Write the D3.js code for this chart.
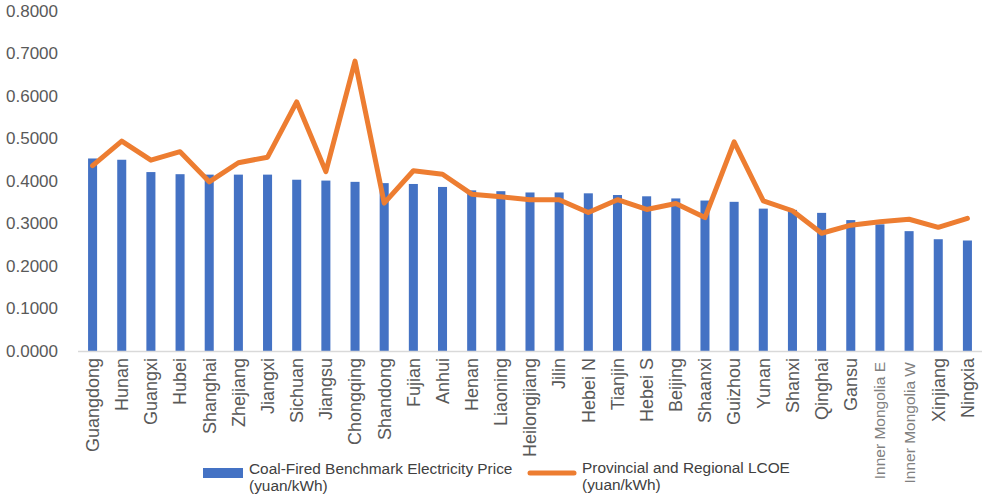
<!DOCTYPE html>
<html>
<head>
<meta charset="utf-8">
<script src="https://cdn.jsdelivr.net/npm/d3@7"></script>
<style>
  html, body { margin: 0; padding: 0; background: #fff; }
  svg { display: block; font-family: "Liberation Sans", Arial, sans-serif; }
</style>
</head>
<body>
<div id="chart"></div>
<script>
const provinces = ['Guangdong', 'Hunan', 'Guangxi', 'Hubei', 'Shanghai', 'Zhejiang', 'Jiangxi', 'Sichuan',
  'Jiangsu', 'Chongqing', 'Shandong', 'Fujian', 'Anhui', 'Henan', 'Liaoning', 'Heilongjiang', 'Jilin',
  'Hebei N', 'Tianjin', 'Hebei S', 'Beijing', 'Shaanxi', 'Guizhou', 'Yunan', 'Shanxi', 'Qinghai', 'Gansu',
  'Inner Mongolia E', 'Inner Mongolia W', 'Xinjiang', 'Ningxia'];

const benchmarkPrice = [0.453, 0.450, 0.421, 0.416, 0.415, 0.415, 0.415, 0.403, 0.401, 0.398, 0.395,
  0.393, 0.386, 0.378, 0.376, 0.373, 0.373, 0.371, 0.367, 0.364, 0.359, 0.354, 0.351, 0.335, 0.332,
  0.325, 0.308, 0.298, 0.282, 0.263, 0.260];

const lcoe = [0.436, 0.494, 0.449, 0.469, 0.398, 0.443, 0.456, 0.586, 0.422, 0.682, 0.348, 0.424,
  0.416, 0.369, 0.363, 0.356, 0.356, 0.326, 0.356, 0.333, 0.347, 0.314, 0.492, 0.353, 0.330, 0.277,
  0.296, 0.304, 0.310, 0.291, 0.312];

const yTicks = [0, 0.1, 0.2, 0.3, 0.4, 0.5, 0.6, 0.7, 0.8];

const width = 982;
const height = 497;
const textColor = '#595959';

const svg = d3.select('#chart').append('svg')
  .attr('width', width)
  .attr('height', height);

const x = d3.scaleBand()
  .domain(provinces)
  .range([78, 982])
  .paddingInner(0.69)
  .paddingOuter(0.345);

const y = d3.scaleLinear()
  .domain([0, 0.8])
  .range([351, 11]);

const isSmall = d => d.startsWith('Inner');

// y labels, no grid
svg.append('g')
  .selectAll('text')
  .data(yTicks)
  .enter().append('text')
    .attr('x', 58)
    .attr('y', d => y(d))
    .attr('dy', '0.35em')
    .attr('text-anchor', 'end')
    .attr('fill', textColor)
    .style('font-size', '17px')
    .text(d3.format('.4f'));

// bars
svg.append('g')
  .selectAll('rect')
  .data(benchmarkPrice)
  .enter().append('rect')
    .attr('x', (d, i) => x(provinces[i]))
    .attr('y', d => y(d))
    .attr('width', x.bandwidth())
    .attr('height', d => y(0) - y(d))
    .attr('fill', '#4472C4');

// axis line
svg.append('line')
  .attr('x1', 78).attr('x2', 982)
  .attr('y1', y(0) + 0.5).attr('y2', y(0) + 0.5)
  .attr('stroke', '#d9d9d9')
  .attr('stroke-width', 1.5);

// LCOE line
const line = d3.line()
  .x((d, i) => x(provinces[i]) + x.bandwidth() / 2)
  .y(d => y(d));

svg.append('path')
  .datum(lcoe)
  .attr('d', line)
  .attr('fill', 'none')
  .attr('stroke', '#ED7D31')
  .attr('stroke-width', 5)
  .attr('stroke-linejoin', 'round')
  .attr('stroke-linecap', 'round');

// category labels
svg.append('g')
  .selectAll('text')
  .data(provinces)
  .enter().append('text')
    .attr('transform', d => `translate(${x(d) + x.bandwidth() / 2}, ${isSmall(d) ? 362 : 358}) rotate(-90)`)
    .attr('dy', '0.35em')
    .attr('text-anchor', 'end')
    .attr('fill', d => isSmall(d) ? '#808080' : textColor)
    .style('font-size', d => isSmall(d) ? '15.5px' : '18px')
    .text(d => d);

// legend
const legend = svg.append('g').attr('fill', '#404040').style('font-size', '15.4px');

legend.append('rect')
  .attr('x', 203).attr('y', 468)
  .attr('width', 40).attr('height', 10)
  .attr('fill', '#4472C4');
legend.append('text').attr('x', 249).attr('y', 474).text('Coal-Fired Benchmark Electricity Price');
legend.append('text').attr('x', 249).attr('y', 491).text('(yuan/kWh)');

legend.append('line')
  .attr('x1', 530).attr('x2', 574)
  .attr('y1', 473).attr('y2', 473)
  .attr('stroke', '#ED7D31')
  .attr('stroke-width', 5)
  .attr('stroke-linecap', 'round');
legend.append('text').attr('x', 582).attr('y', 473).text('Provincial and Regional LCOE');
legend.append('text').attr('x', 582).attr('y', 490).text('(yuan/kWh)');
</script>
</body>
</html>
